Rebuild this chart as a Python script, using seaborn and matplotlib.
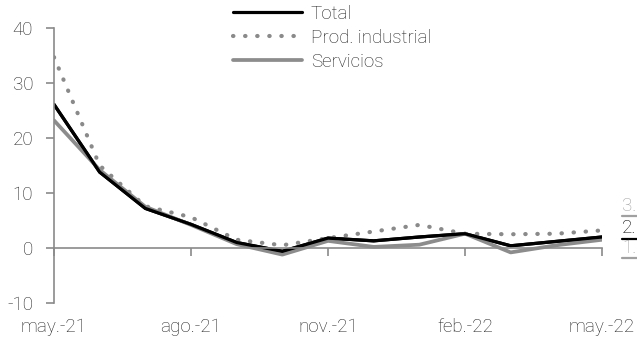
import matplotlib
matplotlib.use("Agg")
import matplotlib.pyplot as plt
import seaborn as sns
import pandas as pd
from matplotlib.lines import Line2D

months = ["may.-21", "jun.-21", "jul.-21", "ago.-21", "sep.-21", "oct.-21", "nov.-21",
          "dic.-21", "ene.-22", "feb.-22", "mar.-22", "abr.-22", "may.-22"]
total = [26.1, 13.8, 7.2, 4.3, 1.0, -0.6, 1.8, 1.3, 2.0, 2.6, 0.4, 1.2, 2.0]
prod_ind = [34.7, 15.0, 7.6, 5.6, 1.5, 0.5, 1.8, 3.0, 4.2, 2.6, 2.5, 2.6, 3.2]
servicios = [23.2, 14.2, 7.5, 4.2, 0.7, -1.2, 1.3, 0.2, 0.6, 2.6, -0.8, 0.5, 1.5]
tick_labels = ["may.-21", "ago.-21", "nov.-21", "feb.-22", "may.-22"]
end_labels = ["3.", "2.", "1."]

sns.set_style("white")
plt.rcParams['font.family'] = ['Roboto', 'DejaVu Sans']
plt.rcParams['font.weight'] = 'light'
plt.rcParams['axes.unicode_minus'] = False

df = pd.DataFrame({"i": range(len(months)), "Total": total,
                   "Prod. industrial": prod_ind, "Servicios": servicios})

fig = plt.figure(figsize=(6.37, 3.43), dpi=100)
ax = fig.add_axes([54/637, 40/343, 548/637, 275/343])

sns.lineplot(data=df, x="i", y="Total", ax=ax, color="black", lw=2.3, label="Total")
sns.lineplot(data=df, x="i", y="Prod. industrial", ax=ax, color="#8a8a8a", lw=3.0,
             linestyle=(0, (0.1, 2.8)), dash_capstyle="round", label="Prod. industrial")
sns.lineplot(data=df, x="i", y="Servicios", ax=ax, color="#8c8c8c", lw=2.7, label="Servicios")
sns.lineplot(data=df, x="i", y="Total", ax=ax, color="black", lw=2.3, legend=False)

ax.set_xlim(0, len(months) - 1)
ax.set_ylim(-10, 40)
ax.set_yticks([-10, 0, 10, 20, 30, 40])
ax.set_xticks([0, 3, 6, 9, 12])
ax.set_xticklabels([])
ax.set_xlabel("")
ax.set_ylabel("")

for s in ["top", "right"]:
    ax.spines[s].set_visible(False)
ax.spines["left"].set_color("#8a8a8a")
ax.spines["left"].set_linewidth(1.2)
ax.spines["bottom"].set_position(("data", 0))
ax.spines["bottom"].set_color("#8a8a8a")
ax.spines["bottom"].set_linewidth(1.2)

ax.tick_params(axis="y", direction="out", length=6, width=1.2, color="#8a8a8a",
               labelsize=13.5, labelcolor="#222222", pad=9, left=True)
ax.tick_params(axis="x", direction="out", length=6, width=1.2, color="#8a8a8a", bottom=True)

sec = ax.secondary_xaxis(0)
sec.set_xticks([0, 3, 6, 9, 12])
sec.set_xticklabels(tick_labels)
sec.spines["bottom"].set_visible(False)
sec.tick_params(axis="x", length=0, pad=11, labelsize=13.5, labelcolor="#222222")

leg = ax.legend(loc="upper left", bbox_to_anchor=(233/637, 1 - 5/343), bbox_transform=fig.transFigure,
                frameon=False, fontsize=13.5, handlelength=3.7, handletextpad=0.45,
                labelspacing=0.32, borderpad=0.0, borderaxespad=0)
for t in leg.get_texts():
    t.set_color("#222222")

ys = [206, 228, 248]
uls = [216, 239, 258]
cols = ["#a0a0a0", "black", "#a0a0a0"]
for lab, yp, ul, c in zip(end_labels, ys, uls, cols):
    fig.text(622/637, 1 - yp/343, lab, color=c, fontsize=13.5, va="center", ha="left")
    yl = 1 - ul/343
    fig.add_artist(Line2D([622/637, 1.0], [yl, yl], color=c, lw=1.6, transform=fig.transFigure))

fig.savefig("out.png", dpi=100)
